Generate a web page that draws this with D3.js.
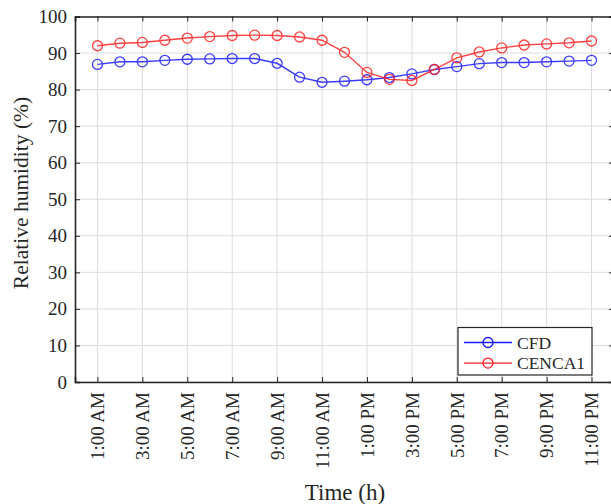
<!DOCTYPE html>
<html>
<head>
<meta charset="utf-8">
<script src="https://cdn.jsdelivr.net/npm/d3@7"></script>
<style>
  body { margin: 0; background: #fff; }
  svg { display: block; }
  svg text { font-family: "Liberation Serif", "DejaVu Serif", serif; }
  .grid line { stroke: #dcdcdc; stroke-width: 1; }
</style>
</head>
<body>
<svg id="chart" width="611" height="504"></svg>
<script>
// hours of day (1 = 1:00 AM ... 23 = 11:00 PM)
const hours = d3.range(1, 24);
const cfd = [86.9, 87.6, 87.6, 88.0, 88.3, 88.4, 88.5, 88.5, 87.2, 83.4, 82.0, 82.3,
  82.7, 83.3, 84.3, 85.5, 86.3, 87.1, 87.4, 87.4, 87.6, 87.8, 88.0];
const cenca1 = [92.0, 92.7, 92.9, 93.5, 94.1, 94.5, 94.8, 94.9, 94.8, 94.4, 93.5, 90.2,
  84.7, 82.8, 82.5, 85.5, 88.7, 90.3, 91.4, 92.2, 92.5, 92.8, 93.3];
const tickHours = [1, 3, 5, 7, 9, 11, 13, 15, 17, 19, 21, 23];
const tickLabels = ['1:00 AM', '3:00 AM', '5:00 AM', '7:00 AM', '9:00 AM', '11:00 AM',
  '1:00 PM', '3:00 PM', '5:00 PM', '7:00 PM', '9:00 PM', '11:00 PM'];
const yTicks = d3.range(0, 101, 10);

const series = [
  { name: 'CFD', values: cfd, color: '#1a1aff' },
  { name: 'CENCA1', values: cenca1, color: '#ff2020' }
];

(function () {
  const svg = d3.select('#chart');
  const pLeft = 75, pRight = 614, pTop = 16.5, pBottom = 382;
  const serif = '"Liberation Serif", "DejaVu Serif", serif';
  const textColor = '#262626';

  const x = d3.scaleLinear().domain([0, 24]).range([pLeft, pRight]);
  const y = d3.scaleLinear().domain([0, 100]).range([pBottom, pTop]);

  // Grid
  const grid = svg.append('g').attr('class', 'grid');
  grid.selectAll('.gx').data(tickHours).enter().append('line')
    .attr('x1', (d) => x(d)).attr('x2', (d) => x(d))
    .attr('y1', pTop).attr('y2', pBottom);
  grid.selectAll('.gy').data(yTicks).enter().append('line')
    .attr('x1', pLeft).attr('x2', pRight)
    .attr('y1', (d) => y(d)).attr('y2', (d) => y(d));

  // Axes (ticks inward, box on all sides)
  const axisColor = '#262626';
  const xAxis = svg.append('g').attr('transform', `translate(0,${pBottom})`)
    .call(d3.axisBottom(x).tickValues(tickHours).tickSize(-5)
      .tickFormat((d, i) => tickLabels[i]));
  xAxis.selectAll('text')
    .attr('transform', 'rotate(-90)')
    .attr('x', -10).attr('y', 0).attr('dy', '0.33em')
    .style('text-anchor', 'end');

  svg.append('g').attr('transform', `translate(${pLeft},0)`)
    .call(d3.axisLeft(y).tickValues(yTicks).tickSize(-5).tickPadding(8));

  svg.append('g').attr('transform', `translate(0,${pTop})`)
    .call(d3.axisTop(x).tickValues(tickHours).tickSize(-5).tickFormat(''));
  svg.append('g').attr('transform', `translate(${pRight},0)`)
    .call(d3.axisRight(y).tickValues(yTicks).tickSize(-5).tickFormat(''));

  svg.selectAll('.domain').attr('stroke', axisColor).attr('stroke-width', 1.6);
  svg.selectAll('.tick line').attr('stroke', axisColor);
  svg.selectAll('.tick text').attr('fill', textColor)
    .style('font-size', '19px').style('font-family', serif);

  // Axis titles
  svg.append('text')
    .attr('transform', `translate(28,193) rotate(-90)`)
    .attr('text-anchor', 'middle')
    .style('font-size', '21.5px').style('font-family', serif)
    .attr('fill', textColor)
    .text('Relative humidity (%)');
  svg.append('text')
    .attr('x', 345).attr('y', 500)
    .attr('text-anchor', 'middle')
    .style('font-size', '23px').style('font-family', serif)
    .attr('fill', textColor)
    .text('Time (h)');

  // Lines and markers
  const line = d3.line().x((d, i) => x(hours[i])).y((d) => y(d));
  series.forEach((s) => {
    const g = svg.append('g').attr('opacity', 0.85);
    g.append('path').datum(s.values)
      .attr('d', line).attr('fill', 'none')
      .attr('stroke', s.color).attr('stroke-width', 1.4);
    g.selectAll('circle').data(s.values).enter().append('circle')
      .attr('cx', (d, i) => x(hours[i])).attr('cy', (d) => y(d))
      .attr('r', 5).attr('fill', 'none')
      .attr('stroke', s.color).attr('stroke-width', 1.3);
  });

  // Legend
  const lg = svg.append('g').attr('transform', 'translate(458,327.5)');
  lg.append('rect').attr('width', 134).attr('height', 47.5)
    .attr('fill', '#fff').attr('stroke', axisColor).attr('stroke-width', 1.2);
  series.forEach((s, i) => {
    const yy = 15 + i * 20.6;
    lg.append('line').attr('x1', 6).attr('x2', 54).attr('y1', yy).attr('y2', yy)
      .attr('stroke', s.color).attr('stroke-width', 1.4);
    lg.append('circle').attr('cx', 30).attr('cy', yy).attr('r', 5)
      .attr('fill', 'none').attr('stroke', s.color).attr('stroke-width', 1.3);
    lg.append('text').attr('x', 59).attr('y', yy).attr('dy', '0.35em')
      .style('font-size', '17.5px').style('font-family', serif)
      .attr('fill', textColor).text(s.name);
  });
})();
</script>
</body>
</html>
